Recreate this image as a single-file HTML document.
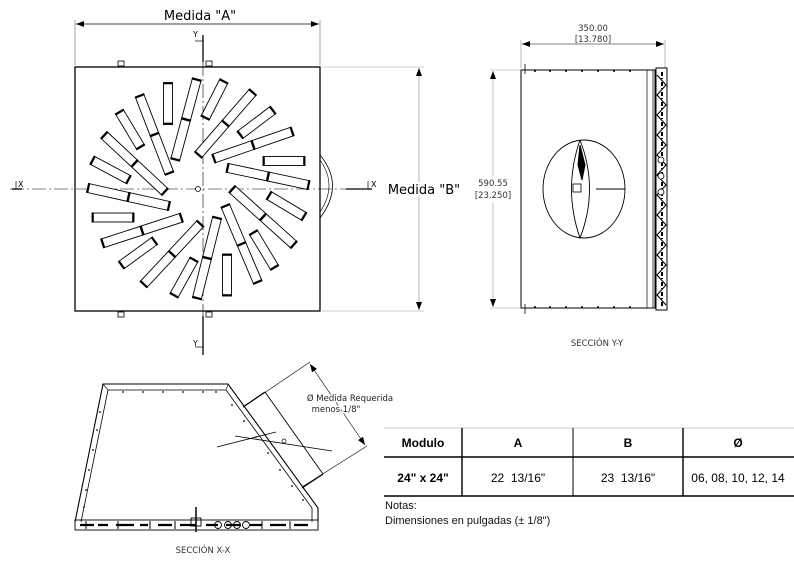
<!DOCTYPE html>
<html><head><meta charset="utf-8"><style>
html,body{margin:0;padding:0;background:#fff;}
svg{display:block;font-family:"Liberation Sans",sans-serif;}
.t{font-family:"DejaVu Sans","Liberation Sans",sans-serif;}
</style></head><body>
<svg width="794" height="567" viewBox="0 0 794 567" xmlns="http://www.w3.org/2000/svg">
<defs>
<marker id="ar" markerWidth="8" markerHeight="6" refX="8" refY="3" orient="auto-start-reverse" markerUnits="userSpaceOnUse"><path d="M0,0 L8,3 L0,6 z" fill="#000"/></marker>
<g id="sS"><rect x="-21" y="-4.5" width="42" height="9" fill="#fff" stroke="#000" stroke-width="0.9"/><rect x="-21" y="-5" width="1.8" height="10"/><rect x="19.2" y="-5" width="1.8" height="10"/></g>
<g id="sL"><rect x="-42" y="-4.5" width="84" height="9" fill="#fff" stroke="#000" stroke-width="0.9"/><rect x="-42" y="-5" width="1.8" height="10"/><rect x="40.2" y="-5" width="1.8" height="10"/><rect x="-1.2" y="-5" width="2.4" height="10"/></g>
</defs>

<!-- Top view -->
<g stroke="#000" fill="none">
<line x1="75" y1="20" x2="75" y2="65" stroke-width="0.6" stroke="#666"/>
<line x1="320" y1="20" x2="320" y2="65" stroke-width="0.6" stroke="#666"/>
<line x1="76" y1="24" x2="319" y2="24" stroke-width="0.7" marker-start="url(#ar)" marker-end="url(#ar)"/>
<line x1="322" y1="67" x2="424" y2="67" stroke-width="0.6" stroke="#999"/>
<line x1="322" y1="311" x2="424" y2="311" stroke-width="0.6" stroke="#999"/>
<line x1="419" y1="68" x2="419" y2="310" stroke-width="0.7" stroke="#999" marker-start="url(#ar)" marker-end="url(#ar)"/>
<line x1="10" y1="189" x2="365" y2="189" stroke-width="0.6" stroke-dasharray="14,3,2,3"/>
<line x1="203" y1="40" x2="203" y2="350" stroke-width="0.6" stroke-dasharray="14,3,2,3"/>
<line x1="203" y1="35" x2="203" y2="62" stroke-width="1.3"/>
<line x1="203" y1="316" x2="203" y2="355" stroke-width="1.3"/>
<line x1="195" y1="41" x2="203" y2="41" stroke-width="0.7"/>
<line x1="195" y1="347" x2="203" y2="347" stroke-width="0.7"/>
<line x1="346" y1="189" x2="372" y2="189" stroke-width="1.3"/>
<line x1="12" y1="189" x2="22" y2="189" stroke-width="1.3"/>
<line x1="368" y1="181" x2="368" y2="189" stroke-width="0.7"/>
<line x1="16" y1="181" x2="16" y2="189" stroke-width="0.7"/>
<path d="M320,155 Q345,185 320,218" stroke-width="0.8"/>
<path d="M320,160 Q338,185 320,212" stroke-width="0.6"/>
<rect x="75" y="67" width="245" height="244" stroke-width="1.3"/>
<rect x="118" y="61" width="6" height="5" stroke-width="0.8"/>
<rect x="206" y="61" width="6" height="5" stroke-width="0.8"/>
<rect x="118" y="312" width="6" height="5" stroke-width="0.8"/>
<rect x="206" y="312" width="6" height="5" stroke-width="0.8"/>
<circle cx="198" cy="189" r="2.5" stroke-width="0.8" fill="#fff"/>
</g>
<g>
<use href="#sS" transform="translate(168,103.5) rotate(90)"/>
<use href="#sL" transform="translate(186,119.5) rotate(105)"/>
<use href="#sS" transform="translate(214.5,99.5) rotate(117)"/>
<use href="#sL" transform="translate(225.5,123.5) rotate(131)"/>
<use href="#sS" transform="translate(256.5,122.5) rotate(143)"/>
<use href="#sL" transform="translate(253,145) rotate(161)"/>
<use href="#sS" transform="translate(284,161) rotate(0)"/>
<use href="#sL" transform="translate(268,176.5) rotate(12)"/>
<use href="#sL" transform="translate(263,217) rotate(42)"/>
<use href="#sS" transform="translate(286.5,206) rotate(31)"/>
<use href="#sL" transform="translate(241.5,244) rotate(67)"/>
<use href="#sS" transform="translate(264,250) rotate(59)"/>
<use href="#sS" transform="translate(227,275) rotate(90)"/>
<use href="#sL" transform="translate(207,258) rotate(104)"/>
<use href="#sS" transform="translate(184,277.5) rotate(119)"/>
<use href="#sL" transform="translate(172,254) rotate(133)"/>
<use href="#sS" transform="translate(138,253) rotate(144)"/>
<use href="#sL" transform="translate(142,230.5) rotate(162)"/>
<use href="#sS" transform="translate(113,217.5) rotate(0)"/>
<use href="#sL" transform="translate(128.5,197) rotate(12.5)"/>
<use href="#sS" transform="translate(110.5,170) rotate(28)"/>
<use href="#sL" transform="translate(134.5,163.5) rotate(43)"/>
<use href="#sS" transform="translate(130,129.5) rotate(59)"/>
<use href="#sL" transform="translate(154.5,134.5) rotate(69)"/>
</g>
<g class="t" font-size="13" fill="#000">
<text x="200" y="20" text-anchor="middle">Medida "A"</text>
<text x="424" y="194" text-anchor="middle" fill="#000" stroke="#fff" stroke-width="4" paint-order="stroke">Medida "B"</text>
<text x="193" y="37" font-size="8">Y</text>
<text x="193" y="346" font-size="8">Y</text>
<text x="18" y="187" font-size="8">X</text>
<text x="371" y="187" font-size="8">X</text>
</g>

<!-- Section Y-Y -->
<g stroke="#000" fill="none">
<line x1="521" y1="40" x2="521" y2="68" stroke-width="0.6" stroke="#888"/>
<line x1="665" y1="40" x2="665" y2="68" stroke-width="0.6" stroke="#888"/>
<line x1="522" y1="44" x2="664" y2="44" stroke-width="0.6" marker-start="url(#ar)" marker-end="url(#ar)"/>
<line x1="490" y1="70" x2="520" y2="70" stroke-width="0.6" stroke="#999"/>
<line x1="490" y1="308" x2="520" y2="308" stroke-width="0.6" stroke="#999"/>
<line x1="493" y1="71" x2="493" y2="176" stroke-width="0.6" stroke="#999" marker-start="url(#ar)"/>
<line x1="493" y1="203" x2="493" y2="307" stroke-width="0.6" stroke="#999" marker-end="url(#ar)"/>
<rect x="521" y="70" width="134" height="238" stroke-width="1"/>
<line x1="647" y1="70" x2="647" y2="308" stroke-width="0.7"/>
<line x1="653" y1="70" x2="653" y2="308" stroke-width="0.7"/>
<rect x="656" y="68" width="11" height="242" stroke-width="1"/>
<path d="M657,75 L666,85 L657,95 L666,105 L657,115 L666,125 L657,135 L666,145 L657,155 L666,165 L657,175 L666,185 L657,195 L666,205 L657,215 L666,225 L657,235 L666,245 L657,255 L666,265 L657,275 L666,285 L657,295 L666,305" stroke-width="1.1"/>
<path d="M662,72 V306" stroke-width="2" stroke-dasharray="4,2,1,3"/>
<circle cx="661" cy="160" r="3" stroke-width="0.8" fill="#fff"/>
<circle cx="661" cy="176" r="3" stroke-width="0.8" fill="#fff"/>
<circle cx="661" cy="192" r="3" stroke-width="0.8" fill="#fff"/>
<line x1="525" y1="64" x2="525" y2="74" stroke-width="0.8"/>
<line x1="525" y1="304" x2="525" y2="314" stroke-width="0.8"/>
<ellipse cx="584" cy="189" rx="41" ry="49" stroke-width="0.9"/>
<path d="M580,140 Q563,189 580,238 Q599,189 580,140" stroke-width="0.9"/>
<path d="M580,145 L585,165 L582,180 L578,165 z" fill="#000"/>
<rect x="573" y="184" width="8" height="8" stroke-width="0.8" fill="#fff"/>
<line x1="596" y1="189" x2="625" y2="189" stroke-width="0.9"/>
</g>
<g fill="#000">
<circle cx="535" cy="71" r="1"/><circle cx="550" cy="71" r="1"/><circle cx="566" cy="71" r="1"/><circle cx="582" cy="71" r="1"/><circle cx="598" cy="71" r="1"/><circle cx="614" cy="71" r="1"/><circle cx="630" cy="71" r="1"/>
<circle cx="535" cy="307" r="1"/><circle cx="550" cy="307" r="1"/><circle cx="566" cy="307" r="1"/><circle cx="582" cy="307" r="1"/><circle cx="598" cy="307" r="1"/><circle cx="614" cy="307" r="1"/><circle cx="630" cy="307" r="1"/>
</g>
<g class="t" font-size="8.5" fill="#333" text-anchor="middle">
<text x="593" y="31">350.00</text>
<text x="593" y="42">[13.780]</text>
<text x="493" y="186">590.55</text>
<text x="493" y="198">[23.250]</text>
<text x="597" y="346">SECCIÓN Y-Y</text>
<text x="203" y="553">SECCIÓN X-X</text>
</g>

<!-- Section X-X -->
<g stroke="#000" fill="none">
<path d="M75,522 L103,384 L228,384 L318,508 L318,522" stroke-width="1.1"/>
<path d="M81,522 L108,390 L226,390 L312,508 L312,522" stroke-width="0.8"/>
<line x1="103" y1="384" x2="108" y2="390" stroke-width="0.6"/>
<line x1="228" y1="384" x2="226" y2="390" stroke-width="0.6"/>
<rect x="75" y="520" width="243" height="10" stroke-width="0.9"/>
<path d="M80,525 h14 m4,0 h10 m8,0 h18 m6,0 h8 m10,0 h14 m8,0 h16 m10,0 h12 m8,0 h14 m10,0 h12 m8,0 h16 m8,0 h14" stroke-width="2.2"/>
<path d="M86,521 v8 M118,521 v8 M150,521 v8 M175,521 v8 M262,521 v8 M290,521 v8" stroke-width="1"/>
<circle cx="218" cy="525" r="3.5" stroke-width="0.9"/><circle cx="228" cy="525" r="3.5" stroke-width="0.9"/><circle cx="237" cy="525" r="3.5" stroke-width="0.9"/><circle cx="246" cy="525" r="3.5" stroke-width="0.9"/>
<line x1="196" y1="507" x2="196" y2="532" stroke-width="1.5"/>
<rect x="191" y="518" width="10" height="8" stroke-width="0.9"/>
<line x1="243" y1="407" x2="265" y2="392" stroke-width="1.2"/>
<line x1="265" y1="392" x2="323" y2="474" stroke-width="0.9"/>
<line x1="302" y1="488" x2="323" y2="474" stroke-width="1.2"/>
<line x1="245" y1="406" x2="310" y2="362" stroke-width="0.6"/>
<line x1="302" y1="487" x2="367" y2="446" stroke-width="0.6"/>
<line x1="310" y1="364" x2="365" y2="445" stroke-width="0.6" marker-start="url(#ar)" marker-end="url(#ar)"/>
<line x1="217" y1="447" x2="276" y2="432" stroke-width="0.8"/>
<line x1="235" y1="436" x2="332" y2="451" stroke-width="0.8"/>
<circle cx="284" cy="441" r="2" stroke-width="0.7"/>
</g>
<g fill="#000">
<circle cx="93" cy="450" r="0.9"/><circle cx="97" cy="430" r="0.9"/><circle cx="100" cy="412" r="0.9"/><circle cx="89" cy="470" r="0.9"/><circle cx="86" cy="490" r="0.9"/><circle cx="84" cy="507" r="0.9"/>
<circle cx="123" cy="392" r="0.9"/><circle cx="143" cy="392" r="0.9"/><circle cx="163" cy="392" r="0.9"/><circle cx="183" cy="392" r="0.9"/><circle cx="203" cy="392" r="0.9"/><circle cx="216" cy="392" r="0.9"/>
<circle cx="232" cy="405" r="0.9"/><circle cx="244" cy="421" r="0.9"/><circle cx="256" cy="437" r="0.9"/><circle cx="268" cy="453" r="0.9"/><circle cx="280" cy="470" r="0.9"/><circle cx="292" cy="486" r="0.9"/><circle cx="303" cy="500" r="0.9"/>
</g>
<g class="t" font-size="8.5" fill="#222" text-anchor="middle">
<text x="350" y="401" fill="#222" stroke="#fff" stroke-width="3" paint-order="stroke">Ø Medida Requerida</text>
<text x="336" y="412" stroke="#fff" stroke-width="3" paint-order="stroke">menos 1/8"</text>
</g>

<!-- Table -->
<g stroke="#000" fill="none">
<line x1="384" y1="428" x2="794" y2="428" stroke="#ccc" stroke-width="1"/>
<line x1="384" y1="457" x2="794" y2="457" stroke-width="1.4"/>
<line x1="384" y1="496" x2="794" y2="496" stroke-width="1.4"/>
<line x1="462" y1="428" x2="462" y2="496" stroke-width="1.4"/>
<line x1="573" y1="428" x2="573" y2="496" stroke-width="1"/>
<line x1="683" y1="428" x2="683" y2="496" stroke-width="1.4"/>
</g>
<g font-size="12" fill="#000" text-anchor="middle">
<text x="423" y="447" font-weight="bold">Modulo</text>
<text x="518" y="447" font-weight="bold">A</text>
<text x="628" y="447" font-weight="bold">B</text>
<text x="738" y="447" font-weight="bold">Ø</text>
<text x="423" y="482" font-weight="bold">24" x 24"</text>
<text x="518" y="482">22&#160; 13/16"</text>
<text x="628" y="482">23&#160; 13/16"</text>
<text x="738" y="482">06, 08, 10, 12, 14</text>
</g>
<g font-size="11" fill="#111">
<text x="385" y="509">Notas:</text>
<text x="385" y="524">Dimensiones en pulgadas (± 1/8")</text>
</g>
</svg>
</body></html>
